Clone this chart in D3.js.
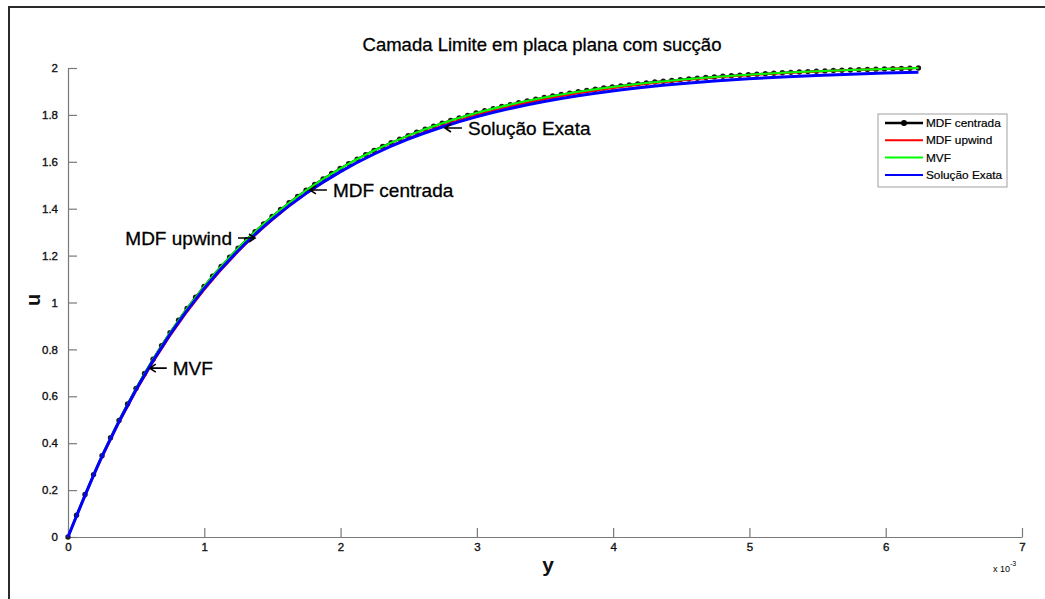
<!DOCTYPE html>
<html>
<head>
<meta charset="utf-8">
<script src="https://cdn.jsdelivr.net/npm/d3@7"></script>
<style>
  html, body { margin: 0; padding: 0; background: #fff; }
  svg { display: block; font-family: "Liberation Sans", Arial, Helvetica, sans-serif; }
</style>
</head>
<body>
<svg id="chart" width="1045" height="599"></svg>
<script>
// Boundary layer over a flat plate with suction: velocity u versus wall distance y (x 10^-3)

// Fine grid (markers of the centred finite-difference solution)
const yFine = [0, 0.0624, 0.1248, 0.1872, 0.2496, 0.312, 0.3744, 0.4368, 0.4992, 0.5616, 0.624, 0.6864, 0.7488, 0.8112, 0.8736, 0.936, 0.9984, 1.0608, 1.1232, 1.1856, 1.248, 1.3104, 1.3728, 1.4352, 1.4976, 1.56, 1.6224, 1.6848, 1.7472, 1.8096, 1.872, 1.9344, 1.9968, 2.0592, 2.1216, 2.184, 2.2464, 2.3088, 2.3712, 2.4336, 2.496, 2.5584, 2.6208, 2.6832, 2.7456, 2.808, 2.8704, 2.9328, 2.9952, 3.0576, 3.12, 3.1824, 3.2448, 3.3072, 3.3696, 3.432, 3.4944, 3.5568, 3.6192, 3.6816, 3.744, 3.8064, 3.8688, 3.9312, 3.9936, 4.056, 4.1184, 4.1808, 4.2432, 4.3056, 4.368, 4.4304, 4.4928, 4.5552, 4.6176, 4.68, 4.7424, 4.8048, 4.8672, 4.9296, 4.992, 5.0544, 5.1168, 5.1792, 5.2416, 5.304, 5.3664, 5.4288, 5.4912, 5.5536, 5.616, 5.6784, 5.7408, 5.8032, 5.8656, 5.928, 5.9904, 6.0528, 6.1152, 6.1776, 6.24];

const mdfCentrada = [0, 0.0929, 0.1815, 0.2660, 0.3467, 0.4236, 0.4970, 0.5670, 0.6338, 0.6975, 0.7583, 0.8163, 0.8716, 0.9244, 0.9747, 1.0227, 1.0686, 1.1123, 1.1540, 1.1937, 1.2317, 1.2679, 1.3024, 1.3354, 1.3668, 1.3968, 1.4254, 1.4526, 1.4787, 1.5035, 1.5272, 1.5498, 1.5713, 1.5919, 1.6115, 1.6302, 1.6481, 1.6651, 1.6813, 1.6969, 1.7117, 1.7258, 1.7392, 1.7521, 1.7643, 1.7760, 1.7872, 1.7978, 1.8079, 1.8176, 1.8268, 1.8356, 1.8440, 1.8520, 1.8597, 1.8670, 1.8739, 1.8806, 1.8869, 1.8929, 1.8987, 1.9042, 1.9094, 1.9144, 1.9192, 1.9238, 1.9281, 1.9323, 1.9362, 1.9400, 1.9436, 1.9470, 1.9503, 1.9534, 1.9564, 1.9592, 1.9620, 1.9645, 1.9670, 1.9694, 1.9716, 1.9737, 1.9758, 1.9777, 1.9796, 1.9814, 1.9831, 1.9847, 1.9862, 1.9877, 1.9891, 1.9904, 1.9917, 1.9929, 1.9941, 1.9952, 1.9962, 1.9972, 1.9982, 1.9991, 2.0000];

// Coarse grid (upwind, finite volume and exact solution)
const yCoarse = [0, 0.2496, 0.4992, 0.7488, 0.9984, 1.248, 1.4976, 1.7472, 1.9968, 2.2464, 2.496, 2.7456, 2.9952, 3.2448, 3.4944, 3.744, 3.9936, 4.2432, 4.4928, 4.7424, 4.992, 5.2416, 5.4912, 5.7408, 5.9904, 6.24];

const mdfUpwind = [0, 0.3398, 0.6224, 0.8575, 1.0531, 1.2157, 1.3510, 1.4636, 1.5572, 1.6351, 1.6999, 1.7537, 1.7985, 1.8358, 1.8668, 1.8926, 1.9141, 1.9320, 1.9468, 1.9591, 1.9694, 1.9780, 1.9851, 1.9910, 1.9959, 2.0000];

const mvf = [0, 0.3467, 0.6338, 0.8716, 1.0686, 1.2317, 1.3668, 1.4787, 1.5713, 1.6481, 1.7117, 1.7643, 1.8079, 1.8440, 1.8739, 1.8987, 1.9192, 1.9362, 1.9503, 1.9620, 1.9716, 1.9796, 1.9862, 1.9917, 1.9962, 2.0000];

const solucaoExata = [0, 0.3436, 0.6281, 0.8638, 1.0590, 1.2206, 1.3545, 1.4654, 1.5572, 1.6333, 1.6963, 1.7485, 1.7917, 1.8275, 1.8571, 1.8816, 1.9020, 1.9188, 1.9328, 1.9443, 1.9539, 1.9618, 1.9684, 1.9738, 1.9783, 1.9820];

const xTicks = [0, 1, 2, 3, 4, 5, 6, 7];
const xTickLabels = ["0", "1", "2", "3", "4", "5", "6", "7"];
const yTicks = [0, 0.2, 0.4, 0.6, 0.8, 1, 1.2, 1.4, 1.6, 1.8, 2];
const yTickLabels = ["0", "0.2", "0.4", "0.6", "0.8", "1", "1.2", "1.4", "1.6", "1.8", "2"];

const seriesNames = ["MDF centrada", "MDF upwind", "MVF", "Solução Exata"];
const seriesColors = ["#000000", "#ff0000", "#00ff00", "#0000ff"];

// Arrow labels pointing at the curves (arrow tip in data units; dir = side the label sits on)
const annotations = [
  { text: "Solução Exata", y: 2.766, u: 1.744, dir: "right" },
  { text: "MDF centrada", y: 1.775, u: 1.480, dir: "right" },
  { text: "MDF upwind", y: 1.372, u: 1.275, dir: "left" },
  { text: "MVF", y: 0.600, u: 0.720, dir: "right" }
];

const W = 1045, H = 599;
const svg = d3.select("#chart");

// figure frame
svg.append("path")
  .attr("d", `M9,${H} V7 H${W}`)
  .attr("fill", "none").attr("stroke", "#2a2a2a").attr("stroke-width", 2);

const x = d3.scaleLinear().domain([0, 7]).range([68, 1022]);
const y = d3.scaleLinear().domain([0, 2]).range([537, 68]);

// axes (ticks pointing inwards)
const gx = svg.append("g").attr("transform", `translate(0,${y(0)})`)
  .call(d3.axisBottom(x).tickValues(xTicks)
    .tickFormat((d, i) => xTickLabels[i])
    .tickSizeInner(-9).tickSizeOuter(0).tickPadding(6));
const gy = svg.append("g").attr("transform", `translate(${x(0)},0)`)
  .call(d3.axisLeft(y).tickValues(yTicks)
    .tickFormat((d, i) => yTickLabels[i])
    .tickSizeInner(-9).tickSizeOuter(0).tickPadding(10));
[gx, gy].forEach(g => {
  g.select(".domain").attr("stroke", "#7a7a7a").attr("stroke-width", 1.2);
  g.selectAll(".tick line").attr("stroke", "#7a7a7a").attr("stroke-width", 1.2);
  g.selectAll(".tick text").attr("font-size", 11.5).attr("fill", "#111")
    .attr("stroke", "#111").attr("stroke-width", 0.35)
    .attr("font-family", "'Liberation Sans', Arial, sans-serif");
});

// curves
const line = d3.line().x(d => x(d[0])).y(d => y(d[1])).curve(d3.curveMonotoneX);
const fine = yFine.map((v, i) => [v, mdfCentrada[i]]);
const pair = arr => yCoarse.map((v, i) => [v, arr[i]]);

svg.append("path").datum(fine).attr("d", line)
  .attr("fill", "none").attr("stroke", seriesColors[0]).attr("stroke-width", 2);
svg.append("g").selectAll("circle").data(fine).join("circle")
  .attr("cx", d => x(d[0])).attr("cy", d => y(d[1])).attr("r", 2.7)
  .attr("fill", "#1a1a1a");
svg.append("path").datum(pair(mdfUpwind)).attr("d", line)
  .attr("fill", "none").attr("stroke", seriesColors[1]).attr("stroke-width", 2);
svg.append("path").datum(pair(mvf)).attr("d", line)
  .attr("fill", "none").attr("stroke", seriesColors[2]).attr("stroke-width", 2);
svg.append("path").datum(pair(solucaoExata)).attr("d", line)
  .attr("fill", "none").attr("stroke", seriesColors[3]).attr("stroke-width", 3);

// title and axis labels
svg.append("text").attr("x", 542).attr("y", 51).attr("text-anchor", "middle")
  .attr("font-size", 18.5).attr("fill", "#000").attr("stroke", "#000").attr("stroke-width", 0.3)
  .text("Camada Limite em placa plana com sucção");
svg.append("text").attr("x", 548).attr("y", 572).attr("text-anchor", "middle")
  .attr("font-size", 21).attr("font-weight", "bold").attr("fill", "#111").text("y");
svg.append("text").attr("transform", "translate(40,300) rotate(-90)")
  .attr("text-anchor", "middle").attr("font-size", 20).attr("font-weight", "bold")
  .attr("fill", "#111").text("u");
const mult = svg.append("text").attr("x", 993).attr("y", 572)
  .attr("font-size", 9).attr("fill", "#000");
mult.append("tspan").text("x 10");
mult.append("tspan").attr("dy", -6).attr("font-size", 7).text("-3");

// annotations: short arrow + label
const ann = svg.append("g");
annotations.forEach(a => {
  const tx = x(a.y), ty = y(a.u);
  const s = a.dir === "right" ? 1 : -1;
  ann.append("path")
    .attr("d", `M${tx + s * 17},${ty} H${tx} M${tx + s * 6},${ty - 4} L${tx},${ty} L${tx + s * 6},${ty + 4}`)
    .attr("fill", "none").attr("stroke", "#000").attr("stroke-width", 1.6);
  ann.append("text")
    .attr("x", tx + s * 23).attr("y", ty).attr("dy", "0.36em")
    .attr("text-anchor", s > 0 ? "start" : "end")
    .attr("font-size", 19).attr("fill", "#000").attr("stroke", "#000").attr("stroke-width", 0.3)
    .text(a.text);
});

// legend
const lg = svg.append("g").attr("transform", "translate(878,114)");
lg.append("rect").attr("width", 129).attr("height", 73)
  .attr("fill", "#fff").attr("stroke", "#a0a0a0").attr("stroke-width", 1);
seriesNames.forEach((name, i) => {
  const yy = 9 + i * 17.3;
  lg.append("line").attr("x1", 7).attr("x2", 45).attr("y1", yy).attr("y2", yy)
    .attr("stroke", seriesColors[i]).attr("stroke-width", i === 0 ? 2.5 : 2);
  if (i === 0) lg.append("circle").attr("cx", 26).attr("cy", yy).attr("r", 3).attr("fill", "#000");
  lg.append("text").attr("x", 48).attr("y", yy).attr("dy", "0.35em")
    .attr("font-size", 11.8).attr("fill", "#000").attr("stroke", "#000").attr("stroke-width", 0.2)
    .text(name);
});
</script>
</body>
</html>
